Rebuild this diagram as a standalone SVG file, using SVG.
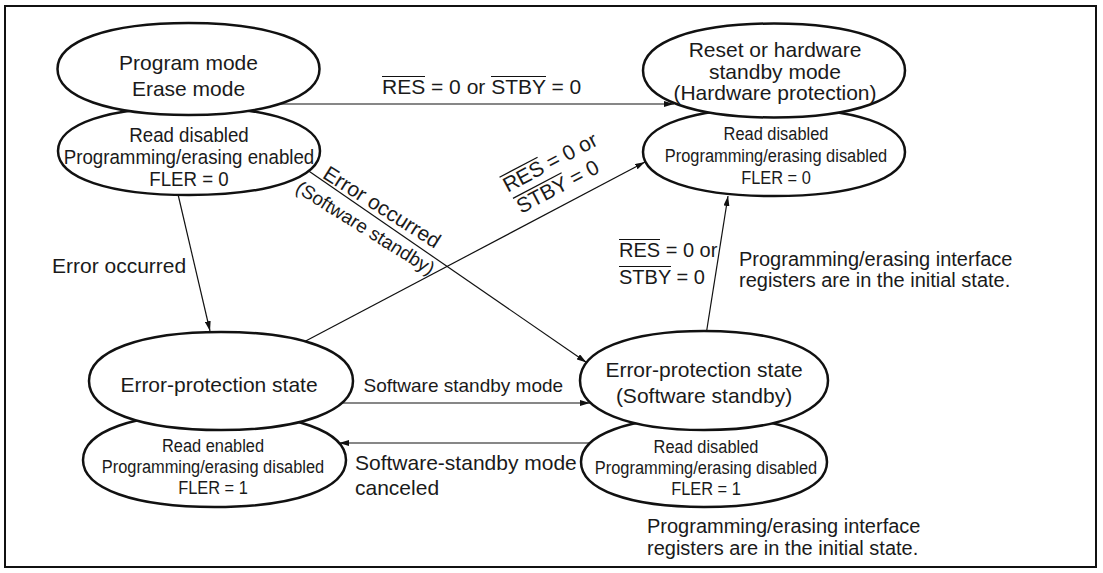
<svg xmlns="http://www.w3.org/2000/svg" width="1103" height="573" viewBox="0 0 1103 573">
<style>
text{font-family:"Liberation Sans",Arial,sans-serif;fill:#1a1a1a}
.big{font-size:21px}
.mid{font-size:20px}
.sm{font-size:18px}
.tl{font-size:20.5px}
.st{fill:#fff;stroke:#111;stroke-width:2.5}
.c{fill:none;stroke:#111;stroke-width:1.2}
.ob{stroke:#111;stroke-width:1.2}
</style>
<defs>
<marker id="ah" viewBox="0 0 10 6" refX="10" refY="3" markerWidth="10" markerHeight="6" markerUnits="userSpaceOnUse" orient="auto">
<path d="M0,0 L10,3 L0,6 Z" fill="#111"/>
</marker>
</defs>
<rect x="5" y="6" width="1091" height="561" fill="#fff" stroke="#111" stroke-width="2"/>

<g id="connectors">
<line class="c" x1="280" y1="104" x2="674" y2="104" marker-end="url(#ah)"/>
<line class="c" x1="177" y1="190" x2="210" y2="331" marker-end="url(#ah)"/>
<line class="c" x1="300" y1="165" x2="586.5" y2="362.5" marker-end="url(#ah)"/>
<line class="c" x1="300" y1="344" x2="645" y2="162" marker-end="url(#ah)"/>
<line class="c" x1="706" y1="335" x2="728" y2="196" marker-end="url(#ah)"/>
<line class="c" x1="330" y1="403" x2="590" y2="403" marker-end="url(#ah)"/>
<line class="c" x1="600" y1="443" x2="339" y2="443" marker-end="url(#ah)"/>
</g>

<g id="program-mode">
<path class="st" d="M320,151 C320,177.84 268.91,195 189,195 C109.09,195 58,177.84 58,151 C58,124.16 109.09,107 189,107 C268.91,107 320,124.16 320,151 Z"/>
<path class="st" d="M319.5,69 C319.5,97.06 268.41,115 188.5,115 C108.59,115 57.5,97.06 57.5,69 C57.5,40.94 108.59,23 188.5,23 C268.41,23 319.5,40.94 319.5,69 Z"/>
<text class="big" x="188.5" y="70" text-anchor="middle">Program mode</text>
<text class="big" x="188.5" y="96" text-anchor="middle">Erase mode</text>
<text class="tl" x="189" y="142" text-anchor="middle" textLength="119.5" lengthAdjust="spacingAndGlyphs">Read disabled</text>
<text class="tl" x="189" y="164" text-anchor="middle" textLength="250.5" lengthAdjust="spacingAndGlyphs">Programming/erasing enabled</text>
<text class="tl" x="189" y="186" text-anchor="middle" textLength="79.5" lengthAdjust="spacingAndGlyphs">FLER = 0</text>
</g>

<g id="hardware-protection">
<path class="st" d="M905,152 C905,178.84 853.91,196 774,196 C694.09,196 643,178.84 643,152 C643,125.16 694.09,108 774,108 C853.91,108 905,125.16 905,152 Z"/>
<path class="st" d="M905,70.5 C905,99.17 853.91,117.5 774,117.5 C694.09,117.5 643,99.17 643,70.5 C643,41.83 694.09,23.5 774,23.5 C853.91,23.5 905,41.83 905,70.5 Z"/>
<text class="big" x="775" y="57" text-anchor="middle">Reset or hardware</text>
<text class="big" x="775" y="79" text-anchor="middle">standby mode</text>
<text class="big" x="775" y="100" text-anchor="middle">(Hardware protection)</text>
<text class="sm" x="776" y="140" text-anchor="middle" textLength="104.8" lengthAdjust="spacingAndGlyphs">Read disabled</text>
<text class="sm" x="776" y="162" text-anchor="middle" textLength="222.4" lengthAdjust="spacingAndGlyphs">Programming/erasing disabled</text>
<text class="sm" x="776" y="184" text-anchor="middle" textLength="69.7" lengthAdjust="spacingAndGlyphs">FLER = 0</text>
</g>

<g id="error-protection">
<path class="st" d="M346,460 C346,488.67 294.72,507 214.5,507 C134.28,507 83,488.67 83,460 C83,431.33 134.28,413 214.5,413 C294.72,413 346,431.33 346,460 Z"/>
<path class="st" d="M353,381 C353,410.89 301.52,430 221,430 C140.48,430 89,410.89 89,381 C89,351.11 140.48,332 221,332 C301.52,332 353,351.11 353,381 Z"/>
<text class="big" x="219" y="392" text-anchor="middle">Error-protection state</text>
<text class="sm" x="213" y="452" text-anchor="middle" textLength="102.1" lengthAdjust="spacingAndGlyphs">Read enabled</text>
<text class="sm" x="213" y="473" text-anchor="middle" textLength="222.4" lengthAdjust="spacingAndGlyphs">Programming/erasing disabled</text>
<text class="sm" x="213" y="494" text-anchor="middle" textLength="69.7" lengthAdjust="spacingAndGlyphs">FLER = 1</text>
</g>

<g id="error-protection-standby">
<path class="st" d="M827,462 C827,489.45 779.03,507 704,507 C628.97,507 581,489.45 581,462 C581,434.55 628.97,417 704,417 C779.03,417 827,434.55 827,462 Z"/>
<path class="st" d="M828,380.5 C828,410.7 779.64,430 704,430 C628.36,430 580,410.7 580,380.5 C580,350.3 628.36,331 704,331 C779.64,331 828,350.3 828,380.5 Z"/>
<text class="big" x="704" y="377" text-anchor="middle">Error-protection state</text>
<text class="big" x="704" y="403" text-anchor="middle">(Software standby)</text>
<text class="sm" x="706" y="453" text-anchor="middle" textLength="104.8" lengthAdjust="spacingAndGlyphs">Read disabled</text>
<text class="sm" x="706" y="474" text-anchor="middle" textLength="222.4" lengthAdjust="spacingAndGlyphs">Programming/erasing disabled</text>
<text class="sm" x="706" y="495" text-anchor="middle" textLength="69.7" lengthAdjust="spacingAndGlyphs">FLER = 1</text>
</g>

<g id="labels">
<text class="big" x="382" y="94">RES = 0 or STBY = 0</text>
<line class="ob" x1="382" y1="76.5" x2="425" y2="76.5"/>
<line class="ob" x1="491" y1="76.5" x2="546" y2="76.5"/>

<text class="big" x="52" y="273">Error occurred</text>

<text class="big" transform="translate(321.5,177.3) rotate(32.3)">Error occurred</text>
<text style="font-size:19px" transform="translate(294.3,191.2) rotate(32)">(Software standby)</text>

<g transform="translate(507.7,192.7) rotate(-27.8)">
<text class="big" x="0" y="0">RES = 0 or</text>
<line class="ob" x1="0" y1="-17.5" x2="43" y2="-17.5"/>
<text class="big" x="2" y="25">STBY = 0</text>
<line class="ob" x1="2" y1="7.5" x2="57" y2="7.5"/>
</g>

<text class="mid" x="619" y="257">RES = 0 or</text>
<line class="ob" x1="619" y1="239.5" x2="660" y2="239.5"/>
<text class="mid" x="619" y="284">STBY = 0</text>
<line class="ob" x1="619" y1="266.5" x2="671" y2="266.5"/>

<text class="mid" x="739" y="266">Programming/erasing interface</text>
<text class="mid" x="739" y="287">registers are in the initial state.</text>

<text style="font-size:19px" x="363.5" y="391.5">Software standby mode</text>
<text class="big" x="355" y="470">Software-standby mode</text>
<text class="big" x="355" y="495">canceled</text>

<text class="mid" x="647" y="533">Programming/erasing interface</text>
<text class="mid" x="647" y="555">registers are in the initial state.</text>
</g>
</svg>
